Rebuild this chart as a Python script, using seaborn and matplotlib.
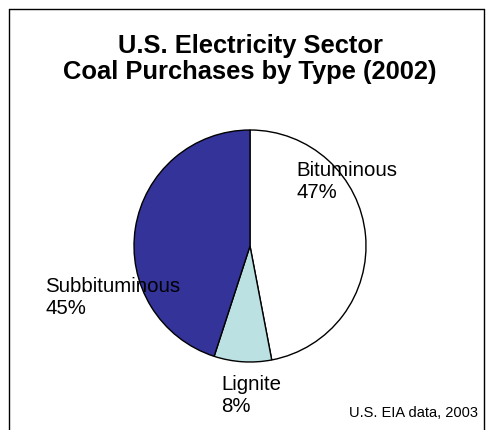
import matplotlib
matplotlib.use("Agg")
import matplotlib.pyplot as plt
import seaborn as sns
from matplotlib.lines import Line2D

coal_types = ["Bituminous", "Lignite", "Subbituminous"]
shares = [47, 8, 45]
colors = ["#FFFFFF", "#BCE1E3", "#333399"]

sns.set_theme(style="white")
plt.rcParams["font.family"] = ["Liberation Sans", "DejaVu Sans"]
plt.rcParams["text.color"] = "black"

W, H = 490, 430
fig = plt.figure(figsize=(W / 100, H / 100), dpi=100)

# pie centre ~ (250, 246) px, radius ~116 px
cx, cy, r = 250, 246, 116
ax = fig.add_axes([(cx - r) / W, (H - cy - r) / H, 2 * r / W, 2 * r / H])
ax.pie(shares, colors=colors, startangle=90, counterclock=False,
       wedgeprops=dict(edgecolor="black", linewidth=1.0))
ax.set_xlim(-1, 1)
ax.set_ylim(-1, 1)
ax.set_aspect("equal")
ax.axis("off")


def px(x, y):
    return x / W, 1 - y / H


fig.text(*px(250, 59), "U.S. Electricity Sector\nCoal Purchases by Type (2002)",
         ha="center", va="center", fontsize=18.4, fontweight="bold",
         linespacing=1.12, color="black")

label_pos = {"Bituminous": (296, 182), "Lignite": (221, 395), "Subbituminous": (45, 298)}
for name, val in zip(coal_types, shares):
    x, y = label_pos[name]
    fig.text(*px(x, y), f"{name}\n{val}%", ha="left", va="center",
             fontsize=14.7, linespacing=1.2, color="black")

fig.text(*px(478, 413), "U.S. EIA data, 2003", ha="right", va="center",
         fontsize=10.5, color="black")

# outer frame (top, left, right)
for xs, ys in [((9, 484), (9, 9)), ((9, 9), (9, 430)), ((484, 484), (9, 430))]:
    fig.add_artist(Line2D([x / W for x in xs], [1 - y / H for y in ys],
                          color="black", linewidth=1.0))

fig.savefig("out.png", dpi=100)
